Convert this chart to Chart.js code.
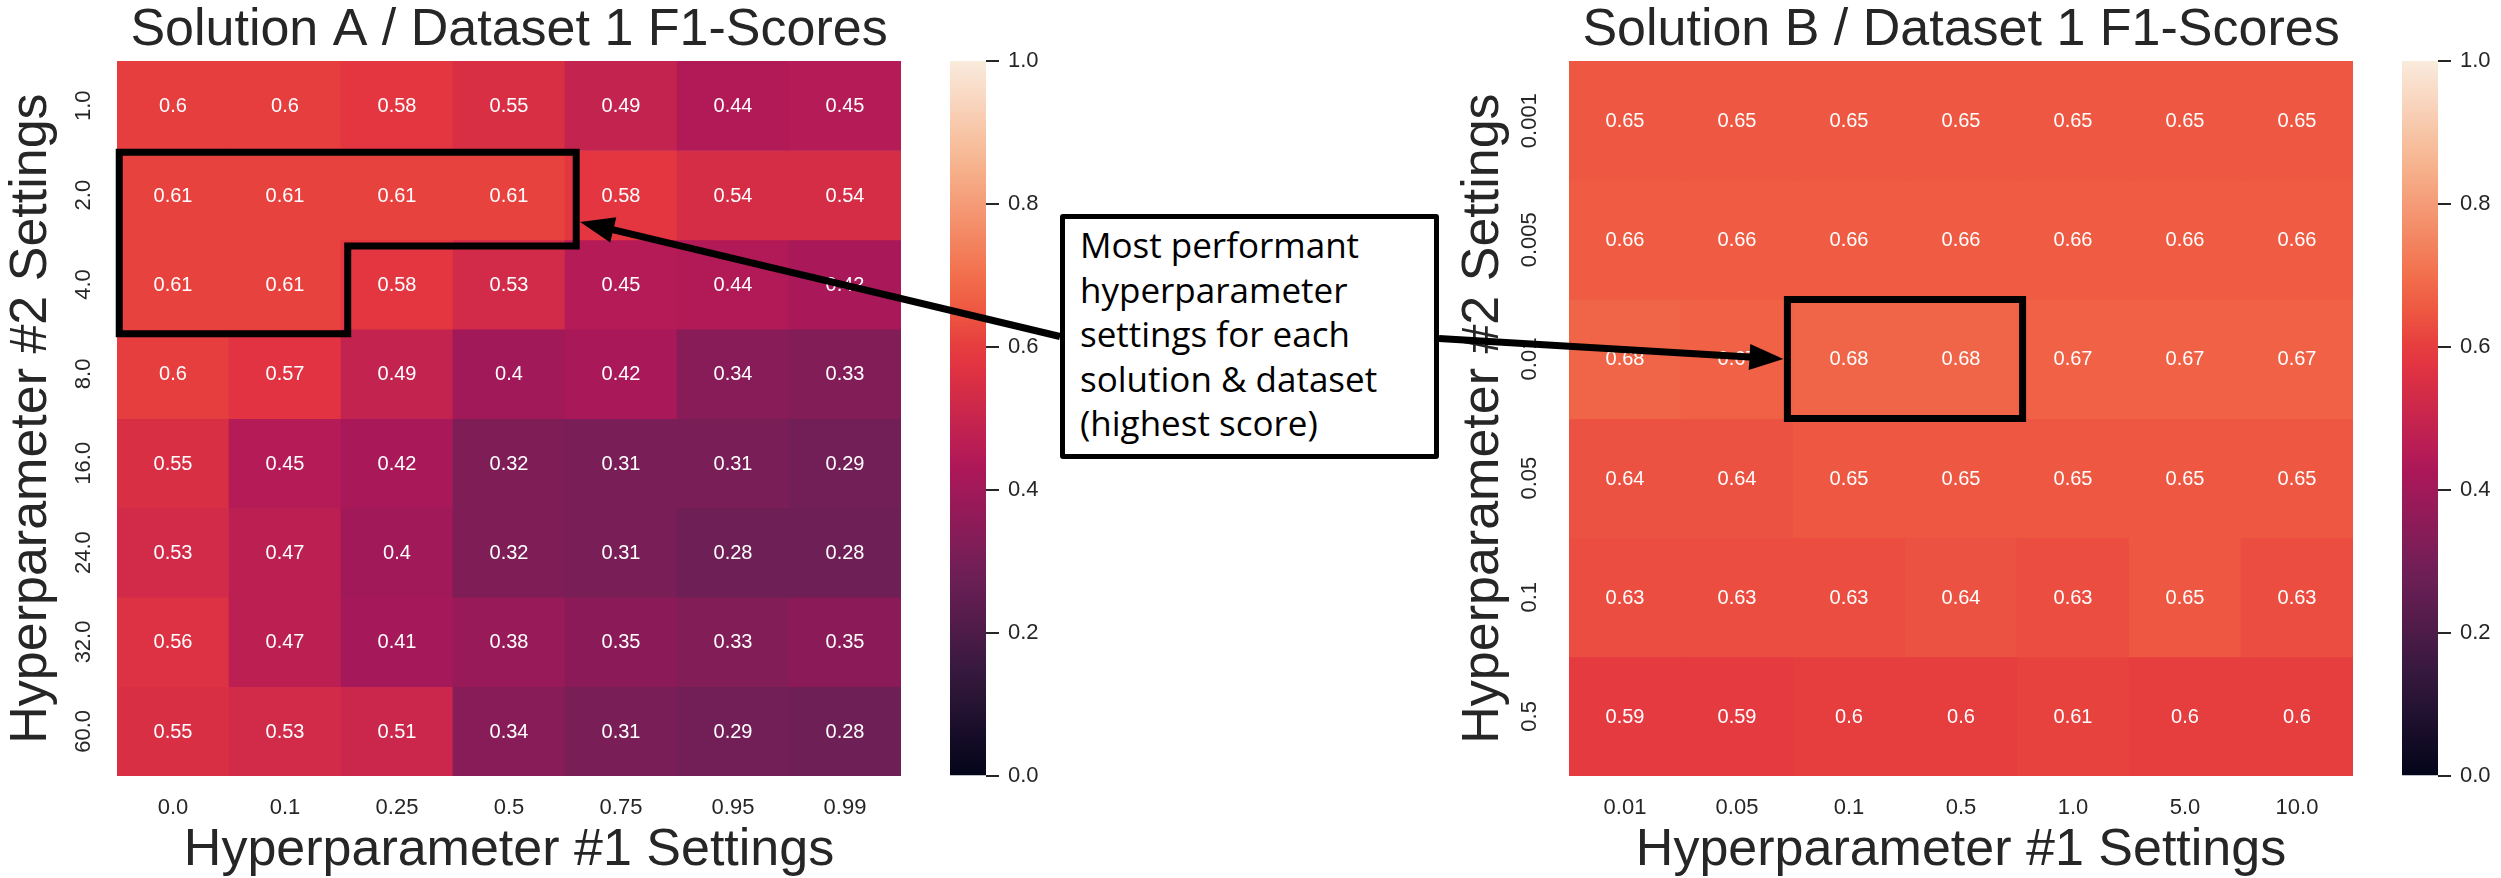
<!DOCTYPE html>
<html>
<head>
<meta charset="utf-8">
<script src="https://cdn.jsdelivr.net/npm/chart.js@4.4.1/dist/chart.umd.min.js"></script>
<style>
html,body{margin:0;padding:0;background:#fff;}
body{width:2501px;height:878px;position:relative;overflow:hidden;}
canvas{position:absolute;top:0;}
#overlay{left:0;top:0;pointer-events:none;}
#note{position:absolute;left:1060px;top:214px;width:379px;height:245px;box-sizing:border-box;
  border:5px solid #000;border-radius:3px;background:#fff;font-family:"Open Sans","Noto Sans",sans-serif;
  font-size:35px;line-height:44.5px;padding:4px 0 0 15px;color:#000;white-space:nowrap;}
</style>
</head>
<body>
<canvas id="heatA" width="901" height="878" style="left:0px"></canvas>
<canvas id="barA" width="106" height="878" style="left:950px"></canvas>
<canvas id="heatB" width="901" height="878" style="left:1452px"></canvas>
<canvas id="barB" width="106" height="878" style="left:2402px"></canvas>
<canvas id="overlay" width="2501" height="878"></canvas>
<div id="note">Most performant<br>hyperparameter<br>settings for each<br>solution &amp; dataset<br>(highest score)</div>
<script>
// ---------------- DATA ----------------
const titleA = "Solution A / Dataset 1 F1-Scores";
const titleB = "Solution B / Dataset 1 F1-Scores";
const xTitle = "Hyperparameter #1 Settings";
const yTitle = "Hyperparameter #2 Settings";

const colsA = ["0.0", "0.1", "0.25", "0.5", "0.75", "0.95", "0.99"];
const rowsA = ["1.0", "2.0", "4.0", "8.0", "16.0", "24.0", "32.0", "60.0"];
const scoresA_1  = [0.6, 0.6, 0.58, 0.55, 0.49, 0.44, 0.45];
const scoresA_2  = [0.61, 0.61, 0.61, 0.61, 0.58, 0.54, 0.54];
const scoresA_4  = [0.61, 0.61, 0.58, 0.53, 0.45, 0.44, 0.42];
const scoresA_8  = [0.6, 0.57, 0.49, 0.4, 0.42, 0.34, 0.33];
const scoresA_16 = [0.55, 0.45, 0.42, 0.32, 0.31, 0.31, 0.29];
const scoresA_24 = [0.53, 0.47, 0.4, 0.32, 0.31, 0.28, 0.28];
const scoresA_32 = [0.56, 0.47, 0.41, 0.38, 0.35, 0.33, 0.35];
const scoresA_60 = [0.55, 0.53, 0.51, 0.34, 0.31, 0.29, 0.28];

const colsB = ["0.01", "0.05", "0.1", "0.5", "1.0", "5.0", "10.0"];
const rowsB = ["0.001", "0.005", "0.01", "0.05", "0.1", "0.5"];
const scoresB_0001 = [0.65, 0.65, 0.65, 0.65, 0.65, 0.65, 0.65];
const scoresB_0005 = [0.66, 0.66, 0.66, 0.66, 0.66, 0.66, 0.66];
const scoresB_001  = [0.68, 0.67, 0.68, 0.68, 0.67, 0.67, 0.67];
const scoresB_005  = [0.64, 0.64, 0.65, 0.65, 0.65, 0.65, 0.65];
const scoresB_01   = [0.63, 0.63, 0.63, 0.64, 0.63, 0.65, 0.63];
const scoresB_05   = [0.59, 0.59, 0.6, 0.6, 0.61, 0.6, 0.6];

const colorbarTicks = [0, 0.2, 0.4, 0.6, 0.8, 1.0];

const gridA = [scoresA_1, scoresA_2, scoresA_4, scoresA_8, scoresA_16, scoresA_24, scoresA_32, scoresA_60];
const gridB = [scoresB_0001, scoresB_0005, scoresB_001, scoresB_005, scoresB_01, scoresB_05];

// ---------------- STYLE ----------------
const FONT = '"Liberation Sans", Arial, sans-serif';
const INK = '#262626';
const ROCKET = [
  [0.000, [3, 5, 26]],
  [0.143, [53, 25, 62]],
  [0.286, [112, 31, 87]],
  [0.429, [173, 23, 89]],
  [0.571, [225, 51, 66]],
  [0.600, [230, 61, 63]],
  [0.650, [238, 87, 65]],
  [0.700, [242, 111, 76]],
  [0.857, [246, 180, 143]],
  [1.000, [250, 235, 221]]
];
function rocket(v) {
  v = Math.max(0, Math.min(1, v));
  for (let i = 1; i < ROCKET.length; i++) {
    if (v <= ROCKET[i][0]) {
      const [p0, c0] = ROCKET[i - 1], [p1, c1] = ROCKET[i];
      const t = (v - p0) / (p1 - p0);
      const c = c0.map((a, k) => Math.round(a + (c1[k] - a) * t));
      return `rgb(${c[0]},${c[1]},${c[2]})`;
    }
  }
  return 'rgb(250,235,221)';
}

const cellText = {
  id: 'cellText',
  afterDatasetsDraw(chart) {
    const ctx = chart.ctx;
    ctx.save();
    ctx.font = `20px ${FONT}`;
    ctx.fillStyle = '#ffffff';
    ctx.textAlign = 'center';
    ctx.textBaseline = 'middle';
    chart.data.datasets.forEach((ds, di) => {
      chart.getDatasetMeta(di).data.forEach((bar, i) => {
        const p = bar.getProps(['x', 'y', 'base'], true);
        ctx.fillText(String(ds.values[i]), p.x, (p.y + p.base) / 2 + 1);
      });
    });
    ctx.restore();
  }
};

function heatmap(canvasId, title, cols, rows, grid) {
  const n = rows.length;
  const datasets = grid.map((vals, r) => ({
    label: rows[r],
    values: vals,
    data: vals.map(() => [n - r - 1, n - r]),
    backgroundColor: vals.map(v => rocket(v)),
    borderWidth: 0,
    barPercentage: 1,
    categoryPercentage: 1,
    grouped: false
  }));
  return new Chart(document.getElementById(canvasId), {
    type: 'bar',
    data: { labels: cols, datasets },
    options: {
      responsive: false,
      animation: false,
      layout: { padding: 0 },
      plugins: {
        legend: { display: false },
        tooltip: { enabled: false },
        title: {
          display: true, text: title, fullSize: false, color: INK,
          font: { family: FONT, size: 52, weight: 'normal', lineHeight: 1.175 },
          padding: 0
        }
      },
      scales: {
        x: {
          type: 'category', offset: true,
          grid: { display: false, drawTicks: false },
          border: { display: false },
          ticks: { color: INK, font: { family: FONT, size: 22 }, padding: 19, maxRotation: 0, minRotation: 0, autoSkip: false },
          title: { display: true, text: xTitle, color: INK, font: { family: FONT, size: 52, lineHeight: 1 }, padding: { top: 0, bottom: 1 } },
          afterFit: s => { s.height = 102; }
        },
        y: {
          type: 'linear', min: 0, max: n,
          grid: { display: false, drawTicks: false },
          border: { display: false },
          afterBuildTicks: s => { s.ticks = rows.map((l, i) => ({ value: n - i - 0.5 })); },
          ticks: {
            color: INK, font: { family: FONT, size: 22 }, autoSkip: false,
            minRotation: 90, maxRotation: 90, crossAlign: 'center', padding: 12,
            callback: (v) => rows[Math.round(n - v - 0.5)]
          },
          title: { display: true, text: yTitle, color: INK, font: { family: FONT, size: 52, lineHeight: 1 }, padding: { top: 6, bottom: 0 } },
          afterFit: s => { s.width = 117; }
        }
      }
    },
    plugins: [cellText]
  });
}

function colorbar(canvasId) {
  return new Chart(document.getElementById(canvasId), {
    type: 'bar',
    data: {
      labels: [''],
      datasets: [{
        data: [[0, 1]],
        borderWidth: 0,
        barPercentage: 1,
        categoryPercentage: 1,
        backgroundColor: (c) => {
          const area = c.chart.chartArea;
          if (!area) return rocket(0.5);
          const g = c.chart.ctx.createLinearGradient(0, area.bottom, 0, area.top);
          for (let i = 0; i <= 40; i++) g.addColorStop(i / 40, rocket(i / 40));
          return g;
        }
      }]
    },
    options: {
      responsive: false,
      animation: false,
      layout: { padding: { top: 61, bottom: 102, left: 0, right: 0 } },
      plugins: { legend: { display: false }, tooltip: { enabled: false } },
      scales: {
        x: { display: false },
        y: {
          position: 'right', min: 0, max: 1,
          afterBuildTicks: s => { s.ticks = colorbarTicks.map(v => ({ value: v })); },
          ticks: { color: INK, font: { family: FONT, size: 22 }, padding: 9, callback: v => v.toFixed(1) },
          grid: { drawOnChartArea: false, drawTicks: true, tickLength: 13, color: INK, lineWidth: 2 },
          border: { display: false },
          afterFit: s => { s.width = 70; }
        }
      }
    }
  });
}

const chartA = heatmap('heatA', titleA, colsA, rowsA, gridA);
const chartB = heatmap('heatB', titleB, colsB, rowsB, gridB);
colorbar('barA');
colorbar('barB');

// ---------------- ANNOTATIONS ----------------
const ov = document.getElementById('overlay').getContext('2d');
function px(chart, offsetX, col, rowPos) {
  const n = chart.data.datasets.length;
  return [offsetX + chart.scales.x.getPixelForValue(col), chart.scales.y.getPixelForValue(n - rowPos)];
}
const offA = 0, offB = 1452;
// polygon around best cells of solution A (col coords, row-edge coords)
const polyA = [[-0.48, 1.02], [3.6, 1.02], [3.6, 2.07], [1.56, 2.07], [1.56, 3.05], [-0.48, 3.05]];
const ptsA = polyA.map(([c, r]) => px(chartA, offA, c, r));
ov.lineWidth = 7; ov.strokeStyle = '#000'; ov.fillStyle = '#000'; ov.lineJoin = 'miter';
ov.beginPath(); ptsA.forEach((p, i) => i ? ov.lineTo(p[0], p[1]) : ov.moveTo(p[0], p[1])); ov.closePath(); ov.stroke();
// rectangle around best cells of solution B
const rectB = [[1.45, 2.0], [3.55, 2.0], [3.55, 3.0], [1.45, 3.0]];
const ptsB = rectB.map(([c, r]) => px(chartB, offB, c, r));
ov.beginPath(); ptsB.forEach((p, i) => i ? ov.lineTo(p[0], p[1]) : ov.moveTo(p[0], p[1])); ov.closePath(); ov.stroke();

function arrow(x1, y1, x2, y2) {
  const a = Math.atan2(y2 - y1, x2 - x1), L = 34, W = 26;
  const bx = x2 - L * Math.cos(a), by = y2 - L * Math.sin(a);
  ov.lineWidth = 7; ov.lineCap = 'butt';
  ov.beginPath(); ov.moveTo(x1, y1); ov.lineTo(bx + 4 * Math.cos(a), by + 4 * Math.sin(a)); ov.stroke();
  ov.beginPath(); ov.moveTo(x2, y2);
  ov.lineTo(bx + W / 2 * Math.sin(a), by - W / 2 * Math.cos(a));
  ov.lineTo(bx - W / 2 * Math.sin(a), by + W / 2 * Math.cos(a));
  ov.closePath(); ov.fill();
}
const note = document.getElementById('note');
const nL = note.offsetLeft, nR = note.offsetLeft + note.offsetWidth, nMid = note.offsetTop + note.offsetHeight / 2;
const tipA = px(chartA, offA, 3.6, 1.8);
arrow(nL, nMid, tipA[0] + 4, tipA[1]);
const tipB = px(chartB, offB, 1.45, 2.5);
arrow(nR, nMid + 2, tipB[0] - 4, tipB[1]);
</script>
</body>
</html>
